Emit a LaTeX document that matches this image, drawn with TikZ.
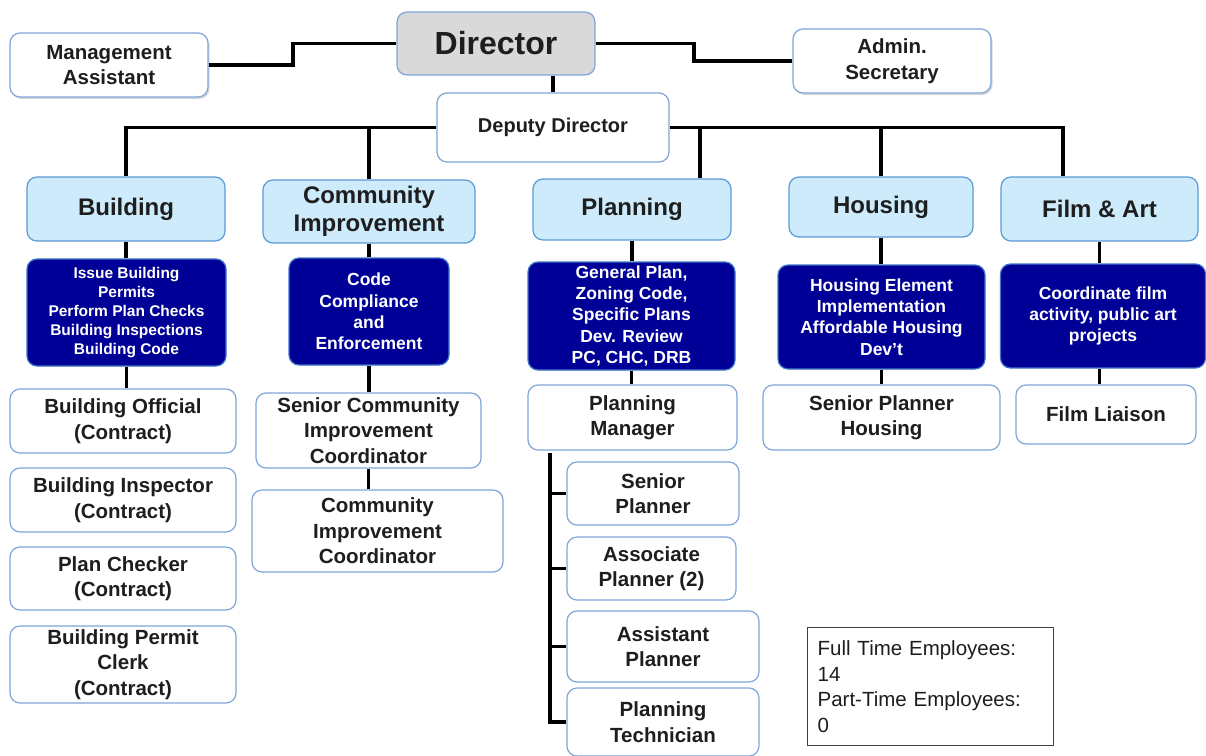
\documentclass[tikz,border=0pt]{standalone}
\usepackage{fontspec}
\setmainfont{Liberation Sans}
\usetikzlibrary{positioning,calc,shadows}
\definecolor{boxline}{HTML}{7FA6D9}
\definecolor{deptfill}{HTML}{CDEBFB}
\definecolor{deptline}{HTML}{5B9BD5}
\definecolor{taskfill}{HTML}{000096}
\definecolor{taskline}{HTML}{3F74C8}
\definecolor{dirfill}{HTML}{D9D9D9}
\definecolor{ink}{HTML}{1E1E1E}
\tikzset{
  unit/.style={draw=boxline, line width=1.2pt, rounded corners=10pt, fill=white,
    align=center, text=ink, inner sep=0pt,
    font=\fontsize{20.5}{25.5}\selectfont\bfseries},
  dept/.style={unit, draw=deptline, fill=deptfill,
    font=\fontsize{24}{28.5}\selectfont\bfseries},
  task/.style={unit, draw=taskline, fill=taskfill, text=white,
    font=\fontsize{17.5}{21.3}\selectfont\bfseries},
  shade/.style={drop shadow={opacity=0.3, shadow xshift=1.5pt, shadow yshift=-2pt}},
  link/.style={line width=3.2pt, draw=black},
}

\begin{document}
\begin{tikzpicture}[x=1pt,y=-1pt]
\fill[white] (0,0) rectangle (1206,755);
\useasboundingbox (0,0) rectangle (1206,755);
% top of the chart
\node[unit, fill=dirfill, minimum width=198, minimum height=63,
  font=\fontsize{32}{38}\selectfont\bfseries] (director) at (496,43.5) {Director};
\node[unit, shade, minimum width=198, minimum height=64] (mgmt) at (109,65) {Management\\Assistant};
\node[unit, shade, minimum width=198, minimum height=64] (admin) at (892,61) {Admin.\\Secretary};
\node[unit, minimum width=232, minimum height=69,
  font=\fontsize{20}{24}\selectfont\bfseries] (deputy) at (553,127.5) {Deputy Director};
\coordinate (mjog) at (293,55);
\coordinate (ajog) at (694,52);
\coordinate (pjoin) at (700,127.5);
\coordinate (fjoin) at (1063,127.5);
\draw[link] (mgmt.east) -| (mjog) |- (director.west);
\draw[link] (director.east) -| (ajog) |- (admin.west);
\draw[link] (deputy.north) -- (deputy.north |- director.south);
% divisions
\node[dept, minimum width=198, minimum height=64] (building) at (126,209) {Building};
\node[dept, minimum width=212, minimum height=63] (community) at (369,211.5) {Community\\Improvement};
\node[dept, minimum width=198, minimum height=61] (planning) at (632,209.5) {Planning};
\node[dept, minimum width=184, minimum height=60] (housing) at (881,207) {Housing};
\node[dept, minimum width=197, minimum height=64] (film) at (1099.5,209) {Film \& Art};
\draw[link] (building.north) |- (deputy.west);
\draw[link] (deputy.east) -| (fjoin |- film.north);
\draw[link] (community.north) -- (community.north |- deputy.west);
\draw[link] (pjoin) -- (pjoin |- planning.north);
\draw[link] (housing.north) -- (housing.north |- deputy.east);
% duties
\node[task, minimum width=199, minimum height=107,
  font=\fontsize{15.5}{19}\selectfont\bfseries] (buildtask) at (126.5,312.5)
  {Issue Building\\Permits\\Perform Plan Checks\\Building Inspections\\Building Code};
\node[task, minimum width=160, minimum height=107] (commtask) at (369,311.5)
  {Code\\Compliance\\and\\Enforcement};
\node[task, minimum width=207, minimum height=108] (plantask) at (631.5,316)
  {General Plan,\\Zoning Code,\\Specific Plans\\Dev. Review\\PC, CHC, DRB};
\node[task, minimum width=207, minimum height=104] (housetask) at (881.5,317)
  {Housing Element\\Implementation\\Affordable Housing\\Dev’t};
\node[task, minimum width=205, minimum height=104] (filmtask) at (1103,316)
  {Coordinate film\\activity, public art\\projects};
\draw[link] (building.south) -- (building.south |- buildtask.north);
\draw[link] (community.south) -- (community.south |- commtask.north);
\draw[link] (planning.south) -- (planning.south |- plantask.north);
\draw[link] (housing.south) -- (housing.south |- housetask.north);
\draw[link] (film.south) -- (film.south |- filmtask.north);
% staff
\node[unit, minimum width=226, minimum height=64] (bofficial) at (123,421) {Building Official\\(Contract)};
\node[unit, minimum width=226, minimum height=64] (binspector) at (123,500) {Building Inspector\\(Contract)};
\node[unit, minimum width=226, minimum height=63] (pchecker) at (123,578.5) {Plan Checker\\(Contract)};
\node[unit, minimum width=226, minimum height=77] (pclerk) at (123,664.5) {Building Permit\\Clerk\\(Contract)};
\node[unit, minimum width=225, minimum height=75] (srcomm) at (368.5,430.5) {Senior Community\\Improvement\\Coordinator};
\node[unit, minimum width=251, minimum height=82] (comm) at (377.5,531) {Community\\Improvement\\Coordinator};
\node[unit, minimum width=209, minimum height=65] (planmgr) at (632.5,417.5) {Planning\\Manager};
\node[unit, minimum width=172, minimum height=63] (srplanner) at (653,493.5) {Senior\\Planner};
\node[unit, minimum width=169, minimum height=63] (assocpl) at (651.5,568.5) {Associate\\Planner (2)};
\node[unit, minimum width=192, minimum height=71] (asstpl) at (663,646.5) {Assistant\\Planner};
\node[unit, minimum width=192, minimum height=68] (techpl) at (663,722) {Planning\\Technician};
\node[unit, minimum width=237, minimum height=65] (srhousing) at (881.5,417.5) {Senior Planner\\Housing};
\node[unit, minimum width=180, minimum height=59] (liaison) at (1106,414.5) {Film Liaison};
\draw[link] (buildtask.south) -- (buildtask.south |- bofficial.north);
\draw[link] (commtask.south) -- (commtask.south |- srcomm.north);
\draw[link] (srcomm.south) -- (srcomm.south |- comm.north);
\draw[link] (plantask.south) -- (plantask.south |- planmgr.north);
\draw[link] (housetask.south) -- (housetask.south |- srhousing.north);
\draw[link] (film.south |- filmtask.south) -- (film.south |- liaison.north);
\coordinate (ladder) at (550,453);
\draw[link] (ladder) |- (techpl.west);
\foreach \n in {srplanner,assocpl,asstpl}
  \draw[link] (ladder |- \n.west) -- (\n.west);
% head count
\node[draw=black!75, line width=1.2pt, anchor=north west, minimum width=246,
  minimum height=118, text width=226, inner xsep=10pt, align=left, text=ink,
  font=\fontsize{20.5}{25.5}\selectfont] (staff) at (807,627)
  {Full Time Employees:\\14\\Part-Time Employees:\\0};
\end{tikzpicture}
\end{document}
